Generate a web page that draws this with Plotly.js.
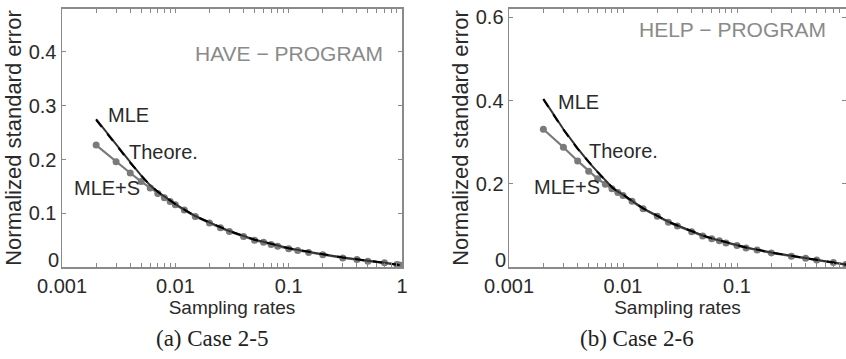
<!DOCTYPE html>
<html><head><meta charset="utf-8">
<script src="https://cdn.plot.ly/plotly-3.0.1.min.js"></script>
<style>html,body{margin:0;padding:0;overflow:hidden;background:#fff}#c{width:846px;height:359px}</style>
</head><body><div id="c"></div>
<script>
// Sampling rates (x)
const rates = [0.002,0.003,0.004,0.005,0.006,0.007,0.008,0.009,0.01,0.012,0.015,0.02,0.025,0.03,0.04,0.05,0.06,0.07,0.08,0.1,0.12,0.15,0.2,0.3,0.4,0.5,0.7,0.9,0.95];
// Case 2-5 (HAVE - PROGRAM)
const leftTheory = [0.274,0.226,0.194,0.170,0.152,0.140,0.131,0.123,0.117,0.107,0.095,0.083,0.074,0.067,0.058,0.051,0.047,0.043,0.040,0.035,0.032,0.028,0.024,0.018,0.014,0.012,0.008,0.005,0.004];
const leftMLE    = [0.275,0.227,0.195,0.170,0.152,0.140,0.131,0.123,0.117,0.107,0.095,0.083,0.074,0.067,0.058,0.051,0.047,0.043,0.040,0.035,0.032,0.028,0.024,0.018,0.014,0.012,0.008,0.005,0.004];
const leftMLES   = [0.227,0.196,0.175,0.159,0.147,0.137,0.129,0.122,0.116,0.106,0.094,0.082,0.073,0.066,0.057,0.050,0.046,0.042,0.039,0.034,0.031,0.027,0.023,0.017,0.014,0.011,0.008,0.005,0.004];
// Case 2-6 (HELP - PROGRAM)
const rightTheory = [0.403,0.330,0.284,0.252,0.228,0.208,0.192,0.181,0.174,0.159,0.141,0.123,0.109,0.100,0.086,0.076,0.069,0.064,0.059,0.053,0.047,0.042,0.035,0.027,0.021,0.018,0.011,0.006,0.004];
const rightMLE    = [0.404,0.331,0.285,0.252,0.228,0.208,0.192,0.181,0.174,0.159,0.141,0.123,0.109,0.100,0.086,0.076,0.069,0.064,0.059,0.053,0.047,0.042,0.035,0.027,0.021,0.018,0.011,0.006,0.004];
const rightMLES   = [0.331,0.288,0.255,0.230,0.212,0.199,0.188,0.179,0.172,0.158,0.140,0.122,0.108,0.099,0.085,0.075,0.068,0.063,0.058,0.052,0.046,0.041,0.034,0.026,0.021,0.017,0.011,0.006,0.004];

const xTickVals = [];
const xTickText = [];
[0.001,0.01,0.1].forEach(d=>{for(let k=1;k<10;k++){xTickVals.push(d*k);xTickText.push(k===1?String(d):'');}});
xTickVals.push(1); xTickText.push('1');

const font = {family:'Liberation Sans, Arial, sans-serif', size:20, color:'#2a2a2a'};
const tfont = {family:'Liberation Sans, Arial, sans-serif', size:19, color:'#2a2a2a'};
const yfont = {family:'Liberation Sans, Arial, sans-serif', size:22, color:'#2a2a2a'};
const axLine = '#8a8a8a';

function xaxis(domain, range, anchor){
  return {type:'log', domain:domain, range:range, anchor:anchor,
    tickvals:xTickVals, ticktext:xTickText, ticks:'inside', ticklen:4, tickcolor:'#888',
    showline:true, linecolor:axLine, linewidth:1.5, mirror:'ticks', showgrid:false, zeroline:false,
    tickfont:font, title:{text:'Sampling rates', font:tfont, standoff:0}};
}
function yaxis(domain, range, dtick, anchor){
  const vals=[]; for(let v=dtick; v<range[1]-1e-9; v+=dtick) vals.push(+v.toFixed(3));
  return {domain:domain, range:range, anchor:anchor, tickvals:vals, ticktext:vals.map(v=>String(v)),
    ticks:'inside', ticklen:4, tickcolor:'#888',
    showline:true, linecolor:axLine, linewidth:1.5, mirror:'ticks', showgrid:false, zeroline:false,
    tickfont:font, title:{text:'Normalized standard error', font:yfont, standoff:1}};
}

function traces(xa, ya, mles, mle, theo){
  return [
    {x:rates, y:mles, xaxis:xa, yaxis:ya, mode:'lines+markers', line:{color:'#7a7a7a', width:2.2},
     marker:{color:'#7a7a7a', size:7}, name:'MLE+S', showlegend:false},
    {x:rates, y:mle, xaxis:xa, yaxis:ya, mode:'lines', line:{color:'#333', width:2}, name:'MLE', showlegend:false},
    {x:rates, y:theo, xaxis:xa, yaxis:ya, mode:'lines', line:{color:'#000', width:2, dash:'dash'}, name:'Theore.', showlegend:false}
  ];
}

const data = [].concat(traces('x','y',leftMLES,leftMLE,leftTheory), traces('x2','y2',rightMLES,rightMLE,rightTheory));

const yd = [0.256, 0.975];
const lab = (text,x,y)=>({text:text,x:x/846,y:1-y/359,xref:'paper',yref:'paper',showarrow:false,font:font,xanchor:'left',yanchor:'middle'});
const gray = {family:'Liberation Sans, Arial, sans-serif', size:21, color:'#8a8a8a'};
const serif = {family:'Liberation Serif, Times New Roman, serif', size:23, color:'#222'};
const ctr = (text,x,y,f)=>({text:text,x:x/846,y:1-y/359,xref:'paper',yref:'paper',showarrow:false,font:f,xanchor:'center',yanchor:'middle'});

const layout = {
  width:846, height:359, margin:{l:0,r:0,t:0,b:0}, paper_bgcolor:'#fff', plot_bgcolor:'#fff',
  xaxis: xaxis([0.0733,0.4752],[-3,0],'y'),
  yaxis: yaxis(yd,[0,0.48],0.1,'x'),
  xaxis2: xaxis([0.6017,1.0],[-3,-0.044],'y2'),
  yaxis2: yaxis(yd,[0,0.62],0.2,'x2'),
  annotations:[
    {text:'0', x:0.0733, y:0, xref:'paper', yref:'y', xanchor:'right', yanchor:'bottom', showarrow:false, font:font, xshift:-1, yshift:-6},
    {text:'0', x:0.6017, y:0, xref:'paper', yref:'y2', xanchor:'right', yanchor:'bottom', showarrow:false, font:font, xshift:-1, yshift:-6},
    ctr('HAVE − PROGRAM',289,53,gray),
    ctr('HELP − PROGRAM',732,30,gray),
    lab('MLE',106,115),
    lab('Theore.',127,152),
    lab('MLE+S',72,188),
    lab('MLE',556,102),
    lab('Theore.',587,151),
    lab('MLE+S',532,187),
    ctr('(a) Case 2-5',212,338,serif),
    ctr('(b) Case 2-6',637,338,serif)
  ]
};
Plotly.newPlot('c', data, layout, {displayModeBar:false, staticPlot:true});
</script></body></html>
